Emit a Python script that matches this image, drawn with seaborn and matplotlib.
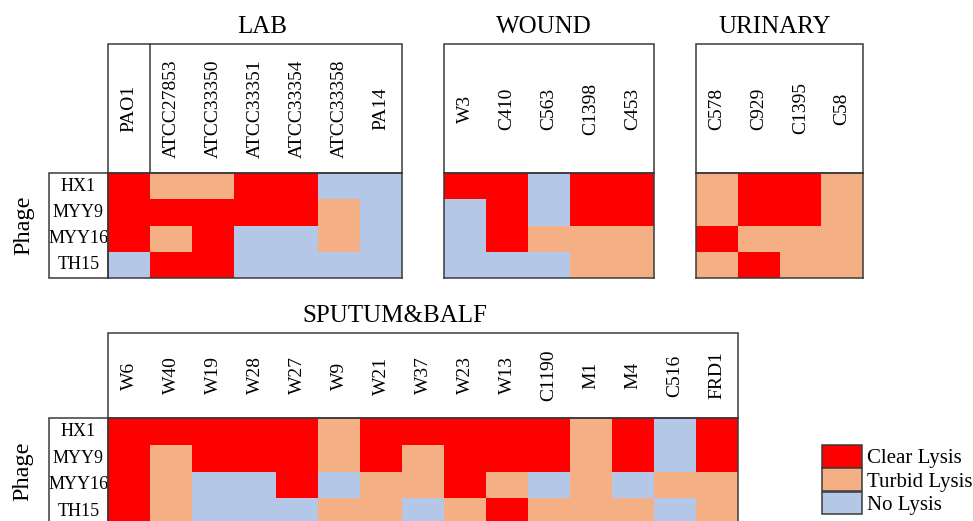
import numpy as np
import pandas as pd
import seaborn as sns
import matplotlib
matplotlib.use("Agg")
import matplotlib.pyplot as plt
from matplotlib.colors import ListedColormap
from matplotlib.patches import Rectangle, Patch

sns.set_style("white")
plt.rcParams["font.family"] = ["Liberation Serif", "DejaVu Serif"]
plt.rcParams["text.color"] = "black"
plt.rcParams["xtick.color"] = "black"
plt.rcParams["ytick.color"] = "black"
plt.rcParams["legend.labelcolor"] = "black"

# ---- data -------------------------------------------------------------
PHAGES = ["HX1", "MYY9", "MYY16", "TH15"]
LYSIS_LABELS = ["Clear Lysis", "Turbid Lysis", "No Lysis"]
LYSIS_COLORS = ["#FF0000", "#F4B084", "#B4C7E7"]
CODE = {"C": 0, "T": 1, "N": 2}   # C = clear, T = turbid, N = none

LAB_STRAINS = ["PAO1", "ATCC27853", "ATCC33350", "ATCC33351",
               "ATCC33354", "ATCC33358", "PA14"]
LAB_LYSIS = ["CTTCCNN",
             "CCCCCTN",
             "CTCNNTN",
             "NCCNNNN"]

WOUND_STRAINS = ["W3", "C410", "C563", "C1398", "C453"]
WOUND_LYSIS = ["CCNCC",
               "NCNCC",
               "NCTTT",
               "NNNTT"]

URINARY_STRAINS = ["C578", "C929", "C1395", "C58"]
URINARY_LYSIS = ["TCCT",
                 "TCCT",
                 "CTTT",
                 "TCTT"]

SPUTUM_STRAINS = ["W6", "W40", "W19", "W28", "W27", "W9", "W21", "W37",
                  "W23", "W13", "C1190", "M1", "M4", "C516", "FRD1"]
SPUTUM_LYSIS = ["CCCCCTCCCCCTCNC",
                "CTCCCTCTCCCTCNC",
                "CTNNCNTTCTNTNTT",
                "CTNNNTTNTCTTTNT"]

# ---- figure -------------------------------------------------------------
W, H = 973, 521
LINE = "#3a3a3a"
LW = 1.1
cmap = ListedColormap(LYSIS_COLORS)

fig = plt.figure(figsize=(W / 100, H / 100), dpi=100)


def fig_rect(x0, y0, x1, y1):
    """Pixel box (top-left origin) -> figure fraction [left, bottom, w, h]."""
    return [x0 / W, 1 - y1 / H, (x1 - x0) / W, (y1 - y0) / H]


def outline(x0, y0, x1, y1):
    l, b, w, h = fig_rect(x0, y0, x1, y1)
    fig.add_artist(Rectangle((l, b), w, h, transform=fig.transFigure,
                             fill=False, ec=LINE, lw=LW, zorder=5))


def panel(title, strains, rows, heat, header_top, title_pos,
          row_box_left=None, divider_after=None, phage_x=None):
    x0, y0, x1, y1 = heat
    ax = fig.add_axes(fig_rect(x0, y0, x1, y1))
    df = pd.DataFrame([[CODE[c] for c in r] for r in rows],
                      index=PHAGES, columns=strains)
    sns.heatmap(df, ax=ax, cmap=cmap, vmin=-0.5, vmax=2.5, cbar=False,
                linewidths=0, square=False)

    # column names inside the header box
    header_mid_pts = (y0 - header_top) / 2 * 0.72
    ax.xaxis.tick_top()
    ax.tick_params(axis="x", length=0, pad=header_mid_pts,
                   labeltop=True, labelbottom=False)
    ax.set_xticklabels(strains, rotation=90, va="center", ha="center",
                       fontsize=14, color="black")
    ax.set_xlabel("")

    # phage names in the left box
    if row_box_left is not None:
        mid = (row_box_left + x0) / 2
        ax.tick_params(axis="y", length=0, pad=(x0 - mid) * 0.72)
        ax.set_yticklabels(PHAGES, rotation=0, ha="center", va="center",
                           fontsize=13, color="black")
        outline(row_box_left, y0, x0, y1)
    else:
        ax.set_yticks([])
    ax.set_ylabel("")

    for s in ax.spines.values():
        s.set_visible(True)
        s.set_color(LINE)
        s.set_linewidth(LW)

    outline(x0, header_top, x1, y0)
    if divider_after is not None:
        ax.axvline(divider_after, ymin=1, ymax=1 + (y0 - header_top) / (y1 - y0),
                   color=LINE, lw=LW, clip_on=False)

    fig.text(title_pos[0] / W, 1 - title_pos[1] / H, title,
             ha="center", va="baseline", fontsize=18, color="black")
    if phage_x is not None:
        fig.text(phage_x / W, 1 - (y0 + y1) / 2 / H, "Phage", rotation=90,
                 ha="center", va="center", fontsize=17.5, color="black")
    return ax


panel("LAB", LAB_STRAINS, LAB_LYSIS, (108, 173, 402, 278), 44, (262, 33),
      row_box_left=49, divider_after=1, phage_x=24)
panel("WOUND", WOUND_STRAINS, WOUND_LYSIS, (444, 173, 654, 278), 44, (544, 33))
panel("URINARY", URINARY_STRAINS, URINARY_LYSIS, (696, 173, 863, 278), 44,
      (775, 33))
panel("SPUTUM&BALF", SPUTUM_STRAINS, SPUTUM_LYSIS, (108, 418, 738, 525), 333,
      (395, 322), row_box_left=49, phage_x=23)

# legend
fs = 15
em = fs / 72 * 100
handles = [Patch(facecolor=c, edgecolor=LINE, linewidth=LW, label=l)
           for c, l in zip(LYSIS_COLORS, LYSIS_LABELS)]
fig.legend(handles=handles, loc="upper left",
           bbox_to_anchor=(822 / W, 1 - 445 / H), frameon=False, fontsize=fs,
           handlelength=40 / em, handleheight=27 / em, labelspacing=0,
           handletextpad=5 / em, borderpad=0, borderaxespad=0,
           labelcolor="black")

fig.savefig("out.png", dpi=100)
